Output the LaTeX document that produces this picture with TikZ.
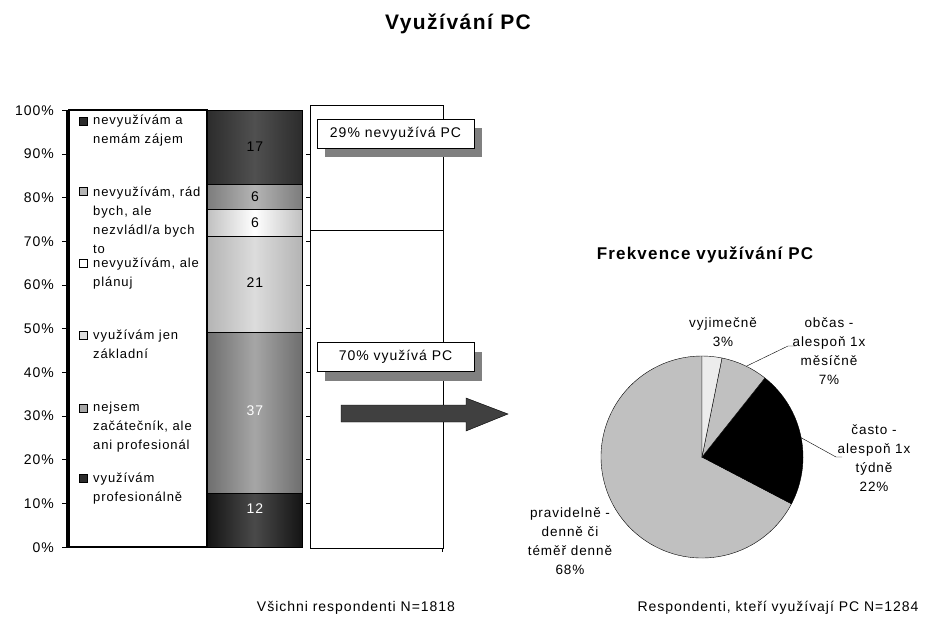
\documentclass[tikz,border=0pt]{standalone}
\usepackage{fontspec}
\setmainfont{Liberation Sans}[LetterSpace=7]
\usetikzlibrary{shadows}

\definecolor{barTop}{HTML}{2C2C2C}
\definecolor{barTopMid}{HTML}{505050}
\definecolor{barRad}{HTML}{7C7C7C}
\definecolor{barRadMid}{HTML}{B4B4B4}
\definecolor{barPlan}{HTML}{C0C0C0}
\definecolor{barBasic}{HTML}{B4B4B4}
\definecolor{barBasicMid}{HTML}{DCDCDC}
\definecolor{barMid}{HTML}{6E6E6E}
\definecolor{barMidMid}{HTML}{A6A6A6}
\definecolor{barPro}{HTML}{141414}
\definecolor{barProMid}{HTML}{4A4A4A}
\definecolor{pieLight}{HTML}{C0C0C0}
\definecolor{pieRare}{HTML}{ECECEC}
\definecolor{arrowGray}{HTML}{404040}

\newcommand{\legfont}{\fontsize{13}{19}\selectfont}
\newcommand{\lblfont}{\fontsize{14}{19}\selectfont}
\newcommand{\piefont}{\fontsize{13.5}{19}\selectfont}

\begin{document}
\begin{tikzpicture}[x=1pt,y=-1pt,
    legtext/.style={anchor=base west, align=left, inner sep=0pt, font=\legfont},
    legsq/.style={draw, minimum size=8pt, inner sep=0pt},
    barnum/.style={inner sep=0pt, font=\lblfont},
    axlab/.style={anchor=base east, inner sep=0pt, font=\lblfont},
    callout/.style={draw, fill=white, line width=1pt, minimum width=157pt, minimum height=29pt,
      inner sep=0pt, font=\lblfont,
      drop shadow={shadow xshift=8pt, shadow yshift=-9pt, fill=black!50, opacity=1}},
    pielab/.style={anchor=base, align=center, inner sep=0pt, font=\piefont}]
  \useasboundingbox (0,0) rectangle (928,616);

  % Titles
  \node[anchor=base, inner sep=0pt, font=\fontsize{21}{24}\selectfont\bfseries] (title) at (458,29) {Využívání PC};
  \node[anchor=base, inner sep=0pt, font=\fontsize{17}{20}\selectfont\bfseries] (pieTitle) at (705,259) {Frekvence využívání PC};

  % Axis and ticks
  \draw[line width=1.3pt] (67,110) -- (67,547) -- (302,547);
  \foreach \p in {0,10,...,100} {
    \draw (62,{547-4.37*\p}) -- (67,{547-4.37*\p});
    \node[axlab] (tick\p) at (54,{552-4.37*\p}) {\p\%};
  }

  % Legend box (text nodes sit on the baseline of their last line)
  \draw[line width=1.2pt, fill=white] (69,110) rectangle (207,547);
  \node[legsq, fill=barTop] (sqNone) at (83,121) {};
  \node[legtext] (legNone) at (93,143) {nevyužívám a\\nemám zájem};
  \node[legsq, fill=barRadMid] (sqWish) at (83,191) {};
  \node[legtext] (legWish) at (93,253) {nevyužívám, rád\\bych, ale\\nezvládl/a bych\\to};
  \node[legsq, fill=white] (sqPlan) at (83,263) {};
  \node[legtext] (legPlan) at (93,286) {nevyužívám, ale\\plánuj};
  \node[legsq, fill=barBasicMid] (sqBasic) at (83,335) {};
  \node[legtext] (legBasic) at (93,358) {využívám jen\\základní};
  \node[legsq, fill=barMidMid] (sqMid) at (83,408) {};
  \node[legtext] (legMid) at (93,449) {nejsem\\začátečník, ale\\ani profesionál};
  \node[legsq, fill=barTop] (sqPro) at (83,478) {};
  \node[legtext] (legPro) at (93,501) {využívám\\profesionálně};

  % Stacked bar
  \draw[left color=barPro, right color=barPro, middle color=barProMid] (207,547) rectangle (302,493);
  \draw[left color=barMid, right color=barMid, middle color=barMidMid] (207,493) rectangle (302,332);
  \draw[left color=barBasic, right color=barBasic, middle color=barBasicMid] (207,332) rectangle (302,236);
  \draw[left color=barPlan, right color=barPlan, middle color=white] (207,236) rectangle (302,209);
  \draw[left color=barRad, right color=barRad, middle color=barRadMid] (207,209) rectangle (302,184);
  \draw[left color=barTop, right color=barTop, middle color=barTopMid] (207,184) rectangle (302,110);
  \node[barnum] (numNone) at (255,147) {17};
  \node[barnum] (numWish) at (255,196.5) {6};
  \node[barnum] (numPlan) at (255,222.5) {6};
  \node[barnum] (numBasic) at (255,283) {21};
  \node[barnum, text=white] (numMid) at (255,411) {37};
  \node[barnum, text=white] (numPro) at (255,509) {12};

  % Second column
  \draw (310,105) rectangle (443,548);
  \draw[line width=1pt] (310,230) -- (443,230);
  \foreach \p in {10,20,...,90}
    \draw (306,{547-4.37*\p}) -- (310,{547-4.37*\p});
  \draw (442,548) -- (442,552);
  \node[callout] (callNot) at (395.5,133.5) {29\% nevyužívá PC};
  \node[callout] (callUse) at (395.5,357) {70\% využívá PC};

  % Block arrow
  \draw[fill=arrowGray] (341,405) -- (466,405) -- (466,398) -- (508,414) -- (466,431) -- (466,422) -- (341,422) -- cycle;

  % Pie
  \begin{scope}[shift={(702,457)}, yscale=-1]
    \draw[fill=pieLight] (0,0) -- (-27.6:101) arc[start angle=-27.6, end angle=-270, radius=101] -- cycle;
    \draw[fill=black] (0,0) -- (51.5:101) arc[start angle=51.5, end angle=-27.6, radius=101] -- cycle;
    \draw[fill=pieLight] (0,0) -- (78.6:101) arc[start angle=78.6, end angle=51.5, radius=101] -- cycle;
    \draw[fill=pieRare] (0,0) -- (90:101) arc[start angle=90, end angle=78.6, radius=101] -- cycle;
    \coordinate (edgeObc) at (64:101);
    \coordinate (edgeCas) at (11:101);
  \end{scope}

  % Pie labels
  \node[pielab] (labVyj) at (723,346) {vyjimečně\\3\%};
  \node[pielab] (labObc) at (829,384) {občas -\\alespoň 1x\\měsíčně\\7\%};
  \node[pielab] (labCas) at (874,491) {často -\\alespoň 1x\\týdně\\22\%};
  \node[pielab] (labPrav) at (570,574) {pravidelně -\\denně či\\téměř denně\\68\%};
  \coordinate (kneeObc) at (788,346);
  \coordinate (endObc) at (795,346);
  \coordinate (kneeCas) at (836,457);
  \coordinate (endCas) at (842,457);
  \draw (edgeObc) -- (kneeObc) -- (endObc);
  \draw (edgeCas) -- (kneeCas) -- (endCas);

  % Bottom notes
  \node[anchor=base, inner sep=0pt, font=\lblfont] (noteAll) at (356,611) {Všichni respondenti N=1818};
  \node[anchor=base, inner sep=0pt, font=\lblfont] (notePC) at (778,611) {Respondenti, kteří využívají PC N=1284};
\end{tikzpicture}
\end{document}
